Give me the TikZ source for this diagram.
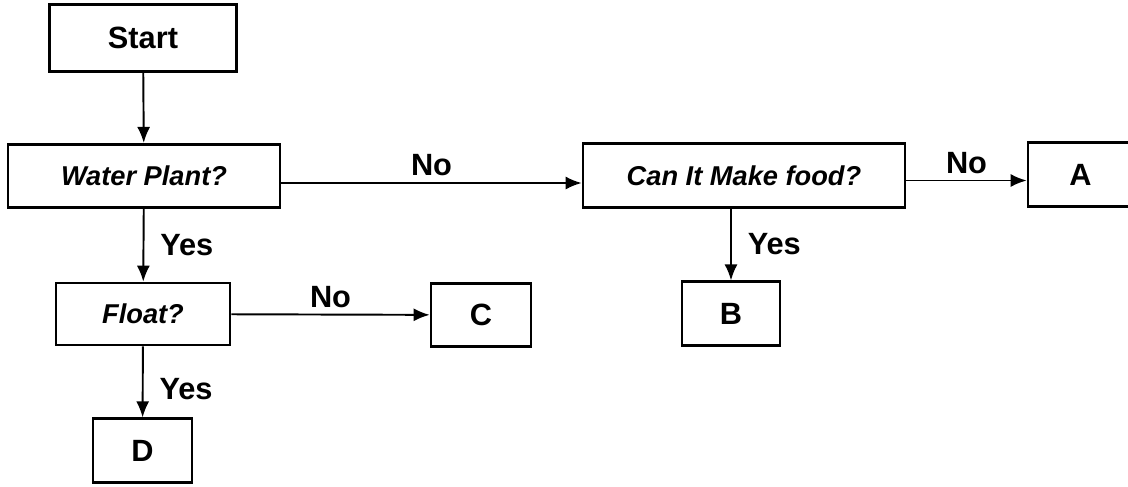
\documentclass[tikz,border=0pt]{standalone}
\usepackage{fontspec}
\setmainfont{Liberation Sans}
\usepackage{tikz}
\usetikzlibrary{arrows.meta, positioning}

\begin{document}
\begin{tikzpicture}[scale=1]
        \tikzset{box/.style={draw, line width=1.5pt, minimum width=#1, minimum height=1.27cm, inner sep=0pt, font=\fontsize{17.5}{20}\selectfont\bfseries}}
        \tikzset{question/.style={box=#1, font=\fontsize{15.5}{18}\selectfont\bfseries\itshape}}
        \tikzset{flow/.style={line width=1.1pt, -{Latex[length=0.32cm, width=0.26cm]}}}
        \tikzset{answer/.style={font=\fontsize{17.5}{20}\selectfont\bfseries}}

        \useasboundingbox (0,0) rectangle (22.56,-9.72);

        \node[box=3.74cm, minimum height=1.34cm] (start) at (2.86,-0.76) {Start};
        \node[question=5.44cm] (water) at (2.88,-3.52) {Water Plant?};
        \node[question=6.44cm] (food) at (14.88,-3.51) {Can It Make food?};
        \node[box=2.1cm] (resA) at (21.61,-3.49) {A};
        \node[question=3.48cm, minimum height=1.24cm] (float) at (2.86,-6.28) {Float?};
        \node[box=2cm] (resC) at (9.62,-6.30) {C};
        \node[box=1.96cm] (resB) at (14.62,-6.27) {B};
        \node[box=1.98cm] (resD) at (2.85,-9.01) {D};

        \draw[flow] (start) -- (water);
        \draw[flow] ([yshift=-0.14cm]water.east) -- ([yshift=-0.14cm]water.east -| food.west) node[midway, above, answer] {No};
        \draw[flow] ([yshift=-0.1cm]food.east) -- ([yshift=-0.1cm]food.east -| resA.west) node[midway, above, answer] {No};
        \draw[flow] (food.south -| resB.north) -- (resB.north) node[midway, right=0.2cm, answer] {Yes};
        \draw[flow] (water) -- (float) node[midway, right=0.2cm, answer] {Yes};
        \draw[flow] (float) -- (resC) node[midway, above, answer] {No};
        \draw[flow] (float) -- (resD) node[pos=0.6, right=0.2cm, answer] {Yes};

    \end{tikzpicture}
\end{document}
